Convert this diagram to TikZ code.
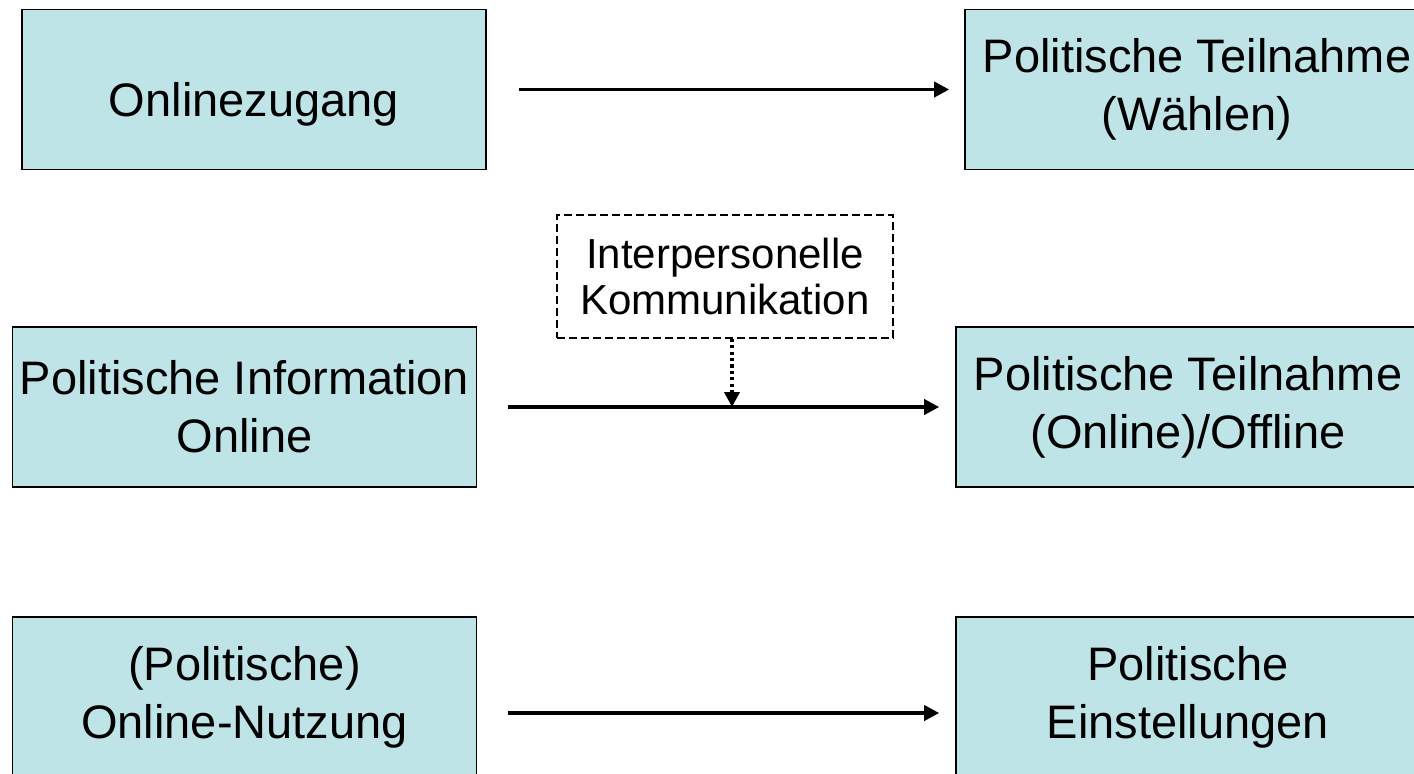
\documentclass[tikz,border=0pt]{standalone}
\usepackage{fontspec}
\setmainfont{Liberation Sans}
\usetikzlibrary{arrows.meta}
\definecolor{boxcyan}{RGB}{191,228,231}
\begin{document}
\begin{tikzpicture}[x=0.5pt,y=-0.5pt,
    factor/.style={draw,line width=0.8pt,fill=boxcyan,minimum width=232pt,minimum height=80pt,
      inner sep=0pt,align=center,font=\fontsize{23.5pt}{29pt}\selectfont},
    moderator/.style={draw,line width=0.7pt,dash pattern=on 4pt off 2pt,minimum width=168pt,
      minimum height=61.5pt,inner sep=0pt,align=center,font=\fontsize{21pt}{23pt}\selectfont},
    effect/.style={line width=1.8pt,-{Triangle[length=7.5pt,width=7.5pt]}}]

        \clip (0,0) rectangle (1414,773);

        \node[factor,text height=32pt] (zugang) at (254,89.5) {Onlinezugang};
        \node[factor] (wahl) at (1197,89.5) {Politische Teilnahme\\(Wählen)};

        \node[factor] (info) at (244.5,407) {Politische Information\\Online};
        \node[factor] (teilnahme) at (1188,407) {Politische Teilnahme\\(Online)/Offline};

        \node[factor] (nutzung) at (244.5,697) {(Politische)\\Online-Nutzung};
        \node[factor] (einstellung) at (1188,697) {Politische\\Einstellungen};

        \node[moderator] (komm) at (725,276.5) {Interpersonelle\\Kommunikation};

        \draw[effect,shorten <=16pt,shorten >=7.5pt] (zugang) -- (wahl);
        \draw[effect,shorten <=15.5pt,shorten >=8pt] (info) -- (teilnahme);
        \draw[effect,shorten <=15.5pt,shorten >=8pt]
          ([yshift=-8pt]nutzung.east) -- ([yshift=-8pt]einstellung.west);

        \coordinate (mod) at (732,407);
        \draw[line width=1.8pt,dash pattern=on 1.6pt off 1.6pt,-{Triangle[length=7.5pt,width=7.5pt]}]
          (komm.south -| mod) -- (mod);

\end{tikzpicture}
\end{document}
